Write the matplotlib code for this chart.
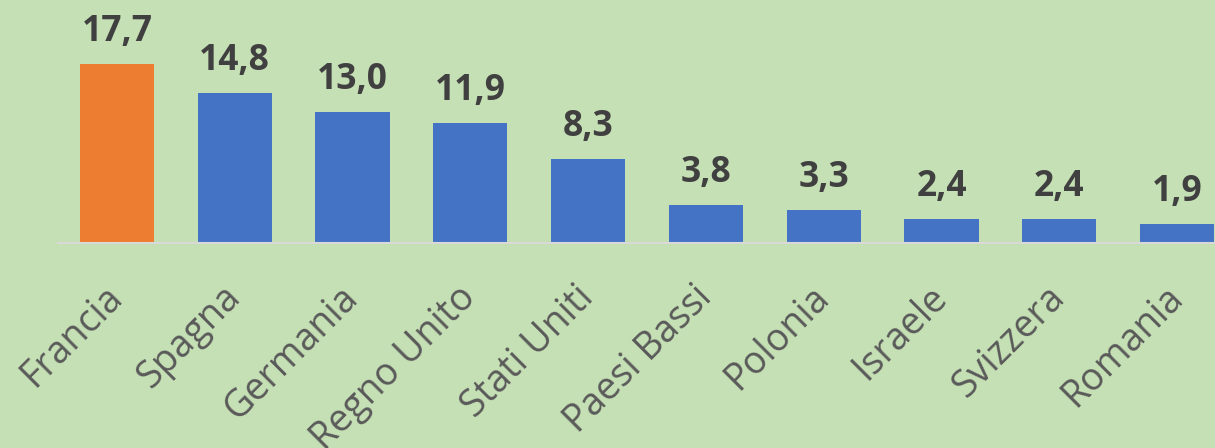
import numpy as np
import matplotlib.pyplot as plt

paesi = ["Francia", "Spagna", "Germania", "Regno Unito", "Stati Uniti",
         "Paesi Bassi", "Polonia", "Israele", "Svizzera", "Romania"]
valori = [17.7, 14.8, 13.0, 11.9, 8.3, 3.8, 3.3, 2.4, 2.4, 1.9]
colori = ["#ED7D31"] + ["#4472C4"] * 9

bg = "#C5E0B4"
fig = plt.figure(figsize=(12.15, 4.48), dpi=100, facecolor=bg)
ax = fig.add_axes([58 / 1215, 205 / 448, 1178 / 1215, 243 / 448])
ax.set_facecolor(bg)

x = np.arange(len(paesi))
bars = ax.bar(x, valori, width=0.63, color=colori, zorder=2)

for xi, v in zip(x, valori):
    ax.annotate(f"{v:.1f}".replace(".", ","), (xi, v), xytext=(0, 10),
                textcoords="offset points", ha="center", va="bottom",
                fontsize=25.5, fontweight="bold", color="#404040",
                family="Open Sans")

ax.set_xlim(-0.5, len(paesi) - 0.5)
ax.set_ylim(0, 24.03)
ax.set_yticks([])
ax.set_xticks(x)
ax.set_xticklabels(paesi, rotation=45, ha="right", va="center",
                   rotation_mode="anchor", fontsize=27, color="#595959",
                   family="Open Sans")
ax.tick_params(axis="x", length=0, pad=35)
for s in ["top", "left", "right"]:
    ax.spines[s].set_visible(False)
ax.spines["bottom"].set_color("#D9D9D9")
ax.spines["bottom"].set_linewidth(1.5)

fig.savefig("out.png", dpi=100, facecolor=bg)
